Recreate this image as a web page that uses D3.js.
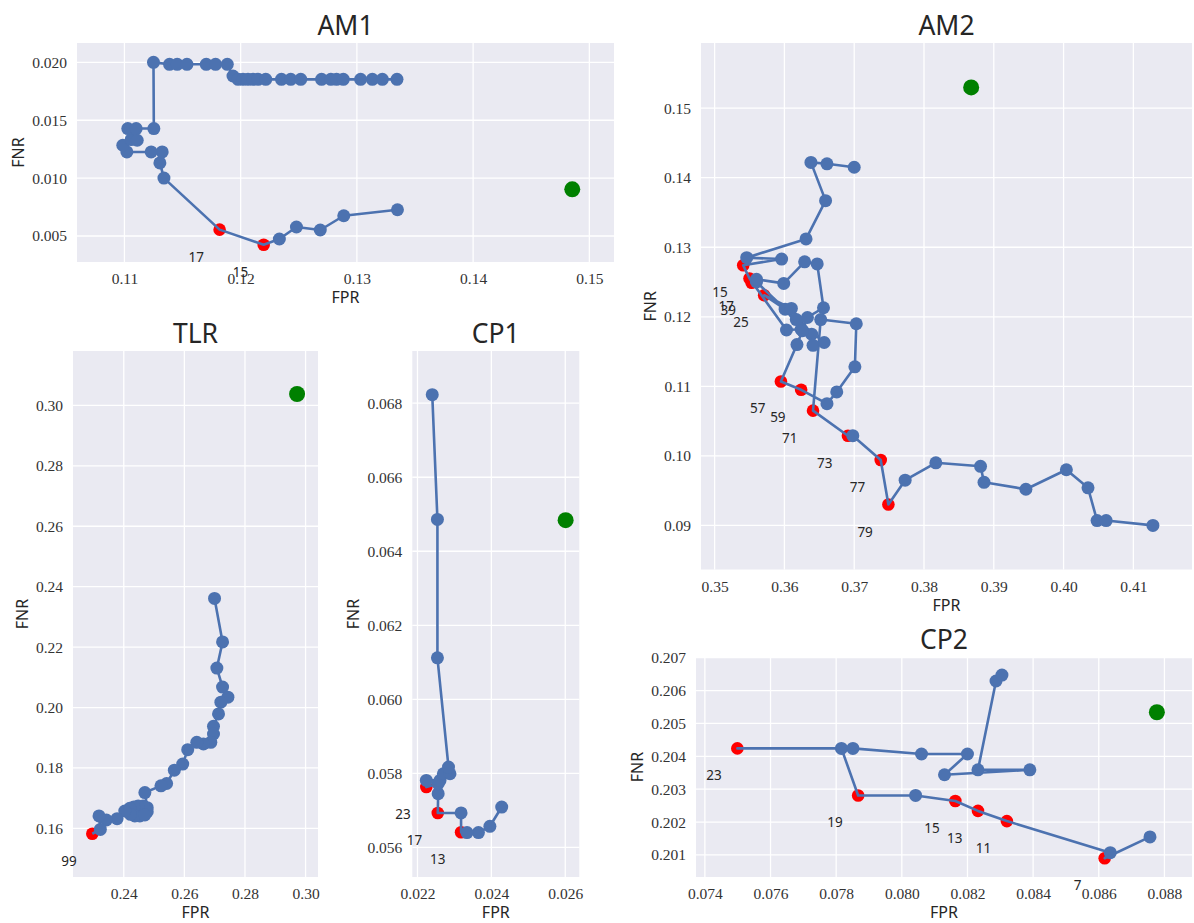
<!DOCTYPE html>
<html><head><meta charset="utf-8">
<script src="https://cdn.jsdelivr.net/npm/d3@7"></script>
<style>body{margin:0;background:#fff}svg{display:block}</style>
</head><body>
<svg id="fig" width="1194" height="923"></svg>
<script>
// ---------------- DATA ----------------
// AM1
const am1Epoch = [5,7,9,11,13,15,17,19,21,23,25,27,29,31,33,35,37,39,41,43,45,47,49,51,53,55,57,59,61,63,65,67,69,71,73,75,77,79,81,83,85,87,89];
const am1Fpr = [0.13349,0.12887,0.12685,0.12480,0.12333,0.12198,0.11819,0.11340,0.11305,0.11325,0.11230,0.11021,0.10986,0.11058,0.11110,0.11029,0.11101,0.11253,0.11250,0.11388,0.11454,0.11538,0.11704,0.11784,0.11885,0.11934,0.11978,0.12020,0.12063,0.12106,0.12150,0.12216,0.12351,0.12431,0.12517,0.12696,0.12776,0.12825,0.12883,0.13032,0.13133,0.13219,0.13345];
const am1Fnr = [0.00727,0.00675,0.00552,0.00578,0.00474,0.00425,0.00555,0.01000,0.01131,0.01226,0.01226,0.01226,0.01284,0.01333,0.01327,0.01428,0.01428,0.01428,0.02000,0.01983,0.01983,0.01983,0.01983,0.01983,0.01983,0.01882,0.01853,0.01853,0.01853,0.01853,0.01853,0.01853,0.01853,0.01853,0.01853,0.01853,0.01853,0.01853,0.01853,0.01853,0.01853,0.01853,0.01853];
const am1Best = [15,17];
const am1Base = [0.14853, 0.00903];
const am1XTicks = [0.11,0.12,0.13,0.14,0.15];
const am1YTicks = [0.005,0.010,0.015,0.020];

// AM2
const am2Epoch = [1,3,5,7,9,11,13,15,17,19,21,23,25,27,29,31,33,35,37,39,41,43,45,47,49,51,53,55,57,59,61,63,65,67,69,71,73,75,77,79,81,83,85,87,89,91,93,95,97,99];
const am2Fpr = [0.3700,0.3661,0.3638,0.3659,0.3631,0.3546,0.3596,0.3541,0.3550,0.3603,0.3624,0.3601,0.3571,0.3610,0.3639,0.3641,0.3657,0.3617,0.3560,0.3553,0.3560,0.3599,0.3629,0.3647,0.3656,0.3633,0.3626,0.3618,0.3595,0.3624,0.3661,0.3675,0.3701,0.3703,0.3652,0.3641,0.3691,0.3698,0.3738,0.3749,0.3773,0.3817,0.3881,0.3886,0.3946,0.4004,0.4035,0.4048,0.4061,0.4128];
const am2Fnr = [0.1415,0.1420,0.1422,0.1367,0.1312,0.1285,0.1283,0.1274,0.1255,0.1181,0.1182,0.1211,0.1231,0.1212,0.1175,0.1159,0.1163,0.1196,0.1250,0.1249,0.1254,0.1248,0.1279,0.1276,0.1213,0.1199,0.1180,0.1160,0.1107,0.1095,0.1075,0.1092,0.1128,0.1190,0.1196,0.1065,0.1029,0.1029,0.0994,0.0930,0.0965,0.0990,0.0985,0.0962,0.0952,0.0980,0.0954,0.0907,0.0907,0.0900];
const am2Best = [15,17,25,39,57,59,71,73,77,79];
const am2Base = [0.38676, 0.15298];
const am2XTicks = [0.35,0.36,0.37,0.38,0.39,0.40,0.41];
const am2YTicks = [0.09,0.10,0.11,0.12,0.13,0.14,0.15];

// TLR
const tlrEpoch = [33,35,37,39,41,43,45,47,49,51,53,55,57,59,61,63,65,67,69,71,73,75,77,79,81,83,85,87,89,91,93,95,97,99];
const tlrFpr = [0.26995,0.27260,0.27072,0.27260,0.27437,0.27204,0.27127,0.26961,0.26961,0.26873,0.26630,0.26409,0.26110,0.25945,0.25669,0.25414,0.25227,0.24696,0.24774,0.24641,0.24774,0.24475,0.24530,0.24332,0.24365,0.24199,0.24696,0.24221,0.24033,0.23779,0.23425,0.23182,0.23227,0.22961];
const tlrFnr = [0.23612,0.22172,0.21307,0.20676,0.20343,0.20177,0.19789,0.19379,0.19124,0.18848,0.18792,0.18848,0.18604,0.18128,0.17928,0.17485,0.17407,0.17186,0.16687,0.16743,0.16554,0.16743,0.16410,0.16709,0.16410,0.16665,0.16443,0.16466,0.16576,0.16322,0.16278,0.16411,0.15967,0.15823];
const tlrBest = [99];
const tlrBase = [0.2972, 0.30377];
const tlrXTicks = [0.24,0.26,0.28,0.30];
const tlrYTicks = [0.16,0.18,0.20,0.22,0.24,0.26,0.28,0.30];

// CP1
const cp1Epoch = [5,7,9,11,13,15,17,19,21,23,25,27,29,31,33,35,37,39];
const cp1Fpr = [0.02428,0.02396,0.02365,0.02334,0.02318,0.02318,0.02255,0.02256,0.02256,0.02224,0.02224,0.02261,0.02270,0.02288,0.02284,0.02254,0.02254,0.02240];
const cp1Fnr = [0.05709,0.05657,0.05640,0.05640,0.05641,0.05693,0.05693,0.05745,0.05772,0.05763,0.05781,0.05781,0.05799,0.05799,0.05817,0.06112,0.06486,0.06823];
const cp1Best = [13,17,23];
const cp1Base = [0.02601, 0.06484];
const cp1XTicks = [0.022,0.024,0.026];
const cp1YTicks = [0.056,0.058,0.060,0.062,0.064,0.066,0.068];

// CP2
const cp2Epoch = [5,7,9,11,13,15,17,19,21,23,25,27,29,31,33,35,37,39];
const cp2Fpr = [0.08756,0.08618,0.08635,0.08320,0.08232,0.08163,0.08042,0.07867,0.07816,0.07499,0.07851,0.08060,0.08200,0.08130,0.08390,0.08232,0.08287,0.08305];
const cp2Fnr = [0.20155,0.20090,0.20107,0.20203,0.20234,0.20264,0.20281,0.20281,0.20424,0.20424,0.20424,0.20407,0.20407,0.20344,0.20359,0.20359,0.20629,0.20647];
const cp2Best = [7,11,13,15,19,23];
const cp2Base = [0.08777, 0.20534];
const cp2XTicks = [0.074,0.076,0.078,0.080,0.082,0.084,0.086,0.088];
const cp2YTicks = [0.201,0.202,0.203,0.204,0.205,0.206,0.207];

// ---------------- LAYOUT ----------------
const panels = [
  {title:"AM1", epoch:am1Epoch, fpr:am1Fpr, fnr:am1Fnr, best:am1Best, base:am1Base, xTicks:am1XTicks, yTicks:am1YTicks, xFmt:".2f", yFmt:".3f",
   box:{l:77,r:614,t:43,b:262}, xDom:[0.10592,0.15212], yDom:[0.002755,0.02167]},
  {title:"AM2", epoch:am2Epoch, fpr:am2Fpr, fnr:am2Fnr, best:am2Best, base:am2Base, xTicks:am2XTicks, yTicks:am2YTicks, xFmt:".2f", yFmt:".2f",
   box:{l:701,r:1192,t:43,b:569.5}, xDom:[0.34805,0.4184], yDom:[0.08366,0.15937]},
  {title:"TLR", epoch:tlrEpoch, fpr:tlrFpr, fnr:tlrFnr, best:tlrBest, base:tlrBase, xTicks:tlrXTicks, yTicks:tlrYTicks, xFmt:".2f", yFmt:".2f",
   box:{l:73,r:318,t:351,b:877}, xDom:[0.22324,0.3041], yDom:[0.14391,0.318]},
  {title:"CP1", epoch:cp1Epoch, fpr:cp1Fpr, fnr:cp1Fnr, best:cp1Best, base:cp1Base, xTicks:cp1XTicks, yTicks:cp1YTicks, xFmt:".3f", yFmt:".3f",
   box:{l:412.3,r:579.3,t:351,b:877}, xDom:[0.02186,0.02638], yDom:[0.0552,0.06941]},
  {title:"CP2", epoch:cp2Epoch, fpr:cp2Fpr, fnr:cp2Fnr, best:cp2Best, base:cp2Base, xTicks:cp2XTicks, yTicks:cp2YTicks, xFmt:".3f", yFmt:".3f",
   box:{l:696,r:1192,t:657,b:877}, xDom:[0.07373,0.08884], yDom:[0.20033,0.20702]}
];

const BLUE = "#4C72B0", RED = "#FF0000", GREEN = "#008000", TXT = "#262626";
const SANS = "'Noto Sans', 'DejaVu Sans', sans-serif";
const SERIF = "'Liberation Serif', 'DejaVu Serif', serif";

const svg = d3.select("#fig");

panels.forEach(p => {
  const b = p.box;
  const g = svg.append("g");
  const x = d3.scaleLinear().domain(p.xDom).range([b.l, b.r]);
  const y = d3.scaleLinear().domain(p.yDom).range([b.b, b.t]);

  g.append("rect").attr("x", b.l).attr("y", b.t).attr("width", b.r - b.l).attr("height", b.b - b.t).attr("fill", "#EAEAF2");

  g.selectAll("line.vg").data(p.xTicks).join("line").attr("class","vg")
    .attr("x1", d => x(d)).attr("x2", d => x(d)).attr("y1", b.t).attr("y2", b.b)
    .attr("stroke", "#fff").attr("stroke-width", 1.3);
  g.selectAll("line.hg").data(p.yTicks).join("line").attr("class","hg")
    .attr("y1", d => y(d)).attr("y2", d => y(d)).attr("x1", b.l).attr("x2", b.r)
    .attr("stroke", "#fff").attr("stroke-width", 1.3);

  const xa = g.append("g").attr("transform", `translate(0,${b.b})`)
    .call(d3.axisBottom(x).tickValues(p.xTicks).tickFormat(d3.format(p.xFmt)).tickSize(0).tickPadding(11));
  xa.select(".domain").remove();
  xa.selectAll("text").attr("font-family", SERIF).attr("font-size", 15.5).attr("fill", "#333");

  const ya = g.append("g").attr("transform", `translate(${b.l},0)`)
    .call(d3.axisLeft(y).tickValues(p.yTicks).tickFormat(d3.format(p.yFmt)).tickSize(0).tickPadding(10));
  ya.select(".domain").remove();
  ya.selectAll("text").attr("font-family", SERIF).attr("font-size", 15.5).attr("fill", "#333");

  let maxW = 0;
  ya.selectAll("text").each(function(){ maxW = Math.max(maxW, this.getBBox().width); });

  // title
  g.append("text").attr("x", (b.l + b.r) / 2).attr("y", b.t - 8.5)
    .attr("text-anchor", "middle").attr("font-family", SANS).attr("font-size", 26.5).attr("fill", TXT).text(p.title);
  // axis labels
  g.append("text").attr("x", (b.l + b.r) / 2).attr("y", b.b + 41)
    .attr("text-anchor", "middle").attr("font-family", SANS).attr("font-size", 16).attr("fill", TXT).text("FPR");
  const lx = b.l - 10 - maxW - 14, ly = (b.t + b.b) / 2;
  g.append("text").attr("transform", `translate(${lx},${ly}) rotate(-90)`)
    .attr("text-anchor", "middle").attr("dominant-baseline", "central")
    .attr("font-family", SANS).attr("font-size", 16).attr("fill", TXT).text("FNR");

  const pts = p.epoch.map((e, i) => ({e, fx: p.fpr[i], fy: p.fnr[i], best: p.best.includes(e)}));

  // red (best) points underneath
  g.selectAll("circle.best").data(pts.filter(d => d.best)).join("circle").attr("class","best")
    .attr("cx", d => x(d.fx)).attr("cy", d => y(d.fy)).attr("r", 6.3).attr("fill", RED);

  // blue line
  g.append("path").datum(pts)
    .attr("d", d3.line().x(d => x(d.fx)).y(d => y(d.fy)))
    .attr("fill", "none").attr("stroke", BLUE).attr("stroke-width", 2.6).attr("stroke-linejoin", "round");

  g.selectAll("circle.pt").data(pts.filter(d => !d.best)).join("circle").attr("class","pt")
    .attr("cx", d => x(d.fx)).attr("cy", d => y(d.fy)).attr("r", 6.5).attr("fill", BLUE);

  // baseline point
  g.append("circle").attr("cx", x(p.base[0])).attr("cy", y(p.base[1])).attr("r", 8).attr("fill", GREEN);

  // labels
  g.selectAll("text.lbl").data(pts.filter(d => d.best)).join("text").attr("class","lbl")
    .attr("x", d => x(d.fx) - 31).attr("y", d => y(d.fy) + 32)
    .attr("font-family", SANS).attr("font-size", 13.5).attr("fill", TXT).text(d => d.e);
});
</script>
</body></html>
